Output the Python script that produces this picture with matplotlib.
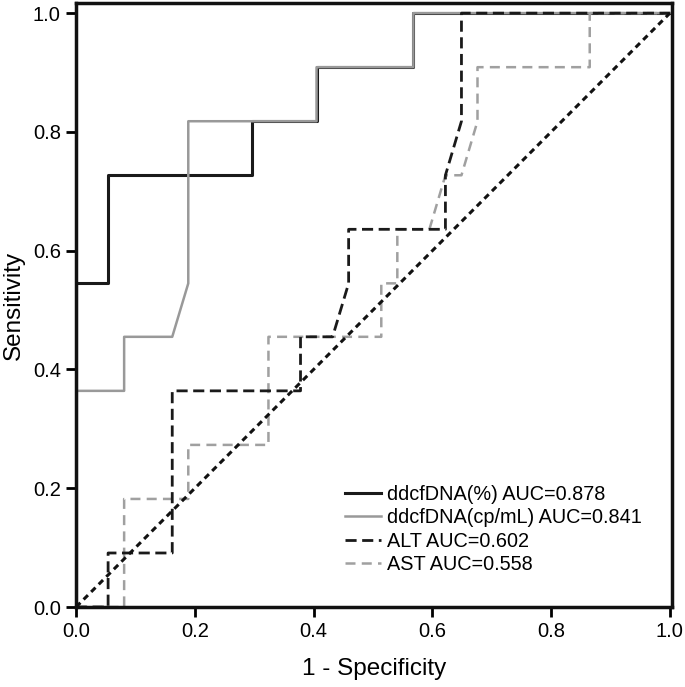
import matplotlib
matplotlib.use("Agg")
import matplotlib.pyplot as plt

plt.rcParams['font.family'] = ['Liberation Sans', 'DejaVu Sans']

# ROC curves (1 - specificity, sensitivity)
pct_x = [0, 0, 0.054, 0.054, 0.297, 0.297, 0.405, 0.405, 0.568, 0.568, 1.0]
pct_y = [0, 0.545, 0.545, 0.727, 0.727, 0.818, 0.818, 0.909, 0.909, 1.0, 1.0]

cp_x = [0, 0, 0.081, 0.081, 0.162, 0.189, 0.189, 0.405, 0.405, 0.568, 0.568, 1.0]
cp_y = [0, 0.364, 0.364, 0.455, 0.455, 0.545, 0.818, 0.818, 0.909, 0.909, 1.0, 1.0]

alt_x = [0, 0.054, 0.054, 0.162, 0.162, 0.378, 0.378, 0.432, 0.459, 0.459,
         0.622, 0.622, 0.649, 0.649, 1.0]
alt_y = [0, 0, 0.091, 0.091, 0.364, 0.364, 0.455, 0.455, 0.545, 0.636,
         0.636, 0.727, 0.818, 1.0, 1.0]

ast_x = [0, 0.081, 0.081, 0.189, 0.189, 0.324, 0.324, 0.514, 0.514, 0.541,
         0.541, 0.595, 0.622, 0.649, 0.676, 0.676, 0.865, 0.865, 1.0]
ast_y = [0, 0, 0.182, 0.182, 0.273, 0.273, 0.455, 0.455, 0.545, 0.545,
         0.636, 0.636, 0.727, 0.727, 0.818, 0.909, 0.909, 1.0, 1.0]

labels = ['ddcfDNA(%) AUC=0.878', 'ddcfDNA(cp/mL) AUC=0.841',
          'ALT AUC=0.602', 'AST AUC=0.558']

fig = plt.figure(figsize=(6.85, 6.87), dpi=100)
ax = fig.add_axes([0.111, 0.1164, 0.870, 0.879])

ax.plot(pct_x, pct_y, color='#1a1a1a', lw=2.2, label=labels[0], zorder=2)
ax.plot(cp_x, cp_y, color='#999999', lw=1.8, label=labels[1], zorder=3)
ax.plot(ast_x, ast_y, color='#a0a0a0', lw=1.8, dashes=(4, 2.5),
        label=labels[3], zorder=4)
ax.plot(alt_x, alt_y, color='#1a1a1a', lw=2.0, dashes=(4, 2),
        label=labels[2], zorder=5)
ax.plot([0, 1], [0, 1], color='#111111', lw=2.2, dashes=(2, 1.5), zorder=6)

ax.set_xlim(0, 1.0035)
ax.set_ylim(0, 1.0168)
ax.set_xticks([0, 0.2, 0.4, 0.6, 0.8, 1.0])
ax.set_yticks([0, 0.2, 0.4, 0.6, 0.8, 1.0])
ax.set_xticklabels(['0.0', '0.2', '0.4', '0.6', '0.8', '1.0'])
ax.set_yticklabels(['0.0', '0.2', '0.4', '0.6', '0.8', '1.0'])
ax.tick_params(direction='out', length=7, width=2, labelsize=14.5, pad=4)

for s in ax.spines.values():
    s.set_linewidth(2.5)
    s.set_color('#111111')
    s.set_zorder(10)

ax.set_xlabel('1 - Specificity', fontsize=17.5, labelpad=12)
ax.set_ylabel('Sensitivity', fontsize=17.5, labelpad=6)

h, l = ax.get_legend_handles_labels()
order = [0, 1, 3, 2]
ax.legend([h[i] for i in order], [l[i] for i in order],
          loc='lower left', bbox_to_anchor=(0.451, 0.054), frameon=False,
          fontsize=14.3, handlelength=1.8, handletextpad=0.3,
          labelspacing=0.23, borderpad=0, borderaxespad=0)

fig.savefig('out.png', dpi=100)
